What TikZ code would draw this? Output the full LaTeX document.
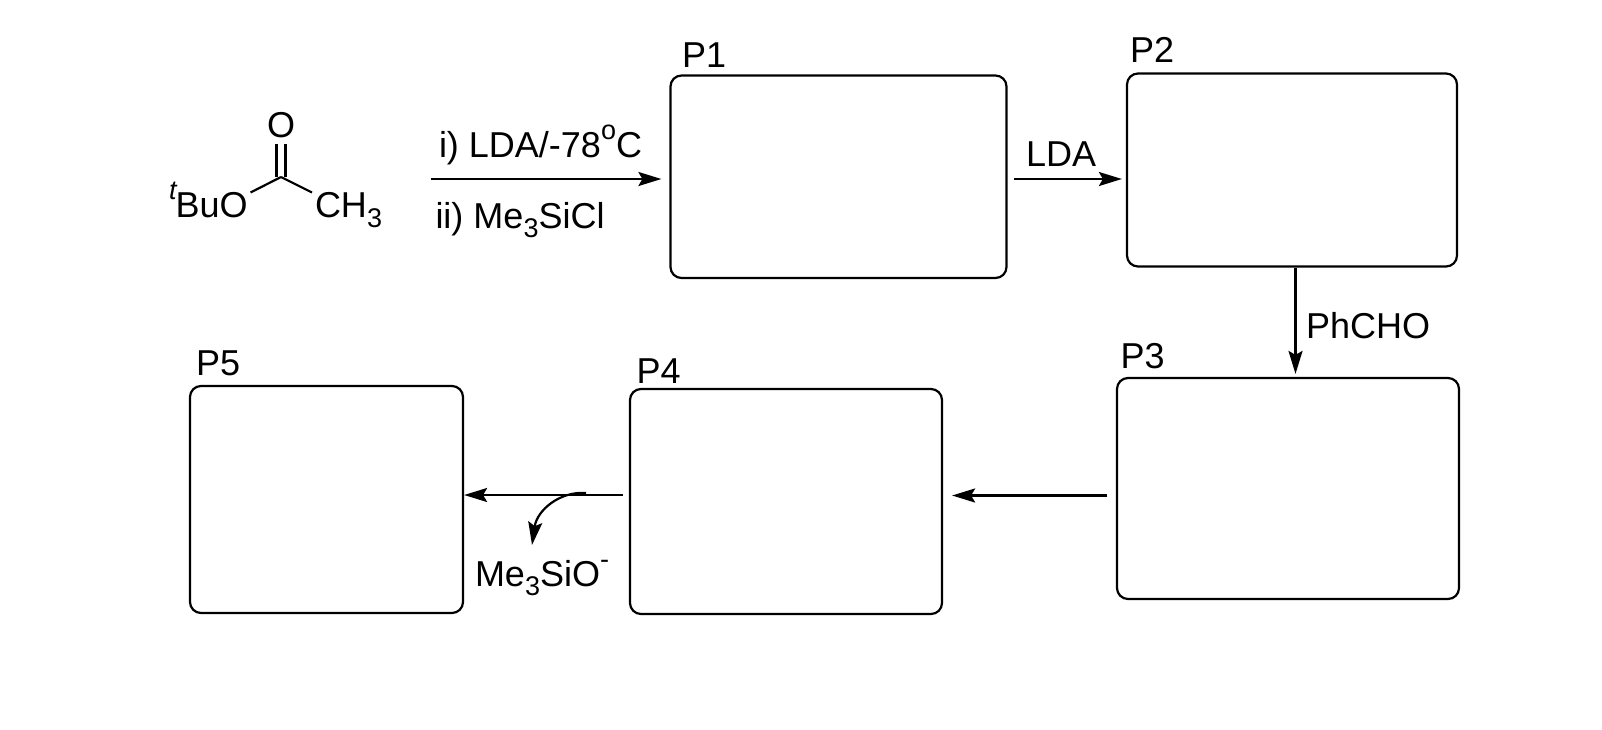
\documentclass[tikz,border=0pt]{standalone}
\usepackage{fontspec}
\setmainfont{Liberation Sans}
\usetikzlibrary{arrows.meta,calc}
\newcommand{\subsc}[1]{\raisebox{-0.27em}{\fontsize{27}{27}\selectfont #1}}
\newcommand{\supsc}[1]{\raisebox{0.5em}{\fontsize{27}{27}\selectfont #1}}
\tikzset{
  pbox/.style={draw=black,line width=2.2pt,rounded corners=11pt,minimum width=#1,inner sep=0pt},
  lab/.style={anchor=base west,inner sep=0pt,outer sep=0pt,font=\fontsize{36}{36}\selectfont,text=black},
  arr/.style={line width=2.2pt,-{Stealth[length=23pt,width=14pt,inset=4pt]}},
  bond/.style={line width=2.2pt}
}
\begin{document}
\begin{tikzpicture}[x=1pt,y=-1pt]
\useasboundingbox (0,0) rectangle (1602,729);
\node[pbox=336pt,minimum height=202.5pt] (p1) at (838.5,176.75) {};
\node[pbox=330pt,minimum height=193pt] (p2) at (1292,170) {};
\node[pbox=342pt,minimum height=221pt] (p3) at (1288,488.5) {};
\node[pbox=312pt,minimum height=225pt] (p4) at (786,501.5) {};
\node[pbox=273pt,minimum height=227pt] (p5) at (326.5,499.5) {};
\node[lab] (l1) at (682,67.5) {P1};
\node[lab] (l2) at (1130,62) {P2};
\node[lab] (l3) at (1120.5,368) {P3};
\node[lab] (l4) at (636.5,383) {P4};
\node[lab] (l5) at (196,375) {P5};
% ester
\node[lab,anchor=base] (o) at (281,137) {O};
\node[lab] (buo) at (169,217.5) {\supsc{\itshape t}\kern-1pt BuO};
\node[lab] (ch3) at (315,217.5) {CH\subsc{3}};
\coordinate (c) at (281,177);
\draw[bond] ([xshift=-4.5pt]c) -- ([xshift=-4.5pt,yshift=-7pt]o.base);
\draw[bond] ([xshift=4.5pt]c) -- ([xshift=4.5pt,yshift=-7pt]o.base);
\draw[bond] (c) -- ($(buo.base east)+(3,-25)$);
\draw[bond] (c) -- ($(ch3.base west)+(-3,-25)$);
% reagent labels
\node[lab] (r1) at (439,157) {i) LDA/-78\supsc{o}C};
\node[lab] (r2) at (435.5,228) {ii) Me\subsc{3}SiCl};
\node[lab] (r3) at (1026,166.5) {LDA};
\node[lab] (r4) at (1306,338) {PhCHO};
\node[lab] (r5) at (475,586) {Me\subsc{3}SiO\supsc{-}};
% arrows
\coordinate (a1) at (431,179);
\draw[arr] (a1) -- ([xshift=-8pt,yshift=-2.25pt]p1.west);
\draw[arr] ([xshift=6.5pt,yshift=-2.25pt]p1.east) -- ([xshift=-4pt,yshift=-9pt]p2.west);
\draw[arr] ([xshift=3.5pt]p2.south) -- ([xshift=7.5pt,yshift=3pt]p3.north);
\draw[arr] ([xshift=-8.5pt,yshift=-7pt]p3.west) -- ([xshift=9pt,yshift=6pt]p4.east);
\draw[arr] ([xshift=-6pt,yshift=6.5pt]p4.west) -- ([xshift=0pt,yshift=4.5pt]p5.east);
\coordinate (cs) at (586,493);
\draw[arr] (cs) .. controls (560,491) and (537,510) .. ($(r5.base west)+(57,-41)$);
\end{tikzpicture}
\end{document}
